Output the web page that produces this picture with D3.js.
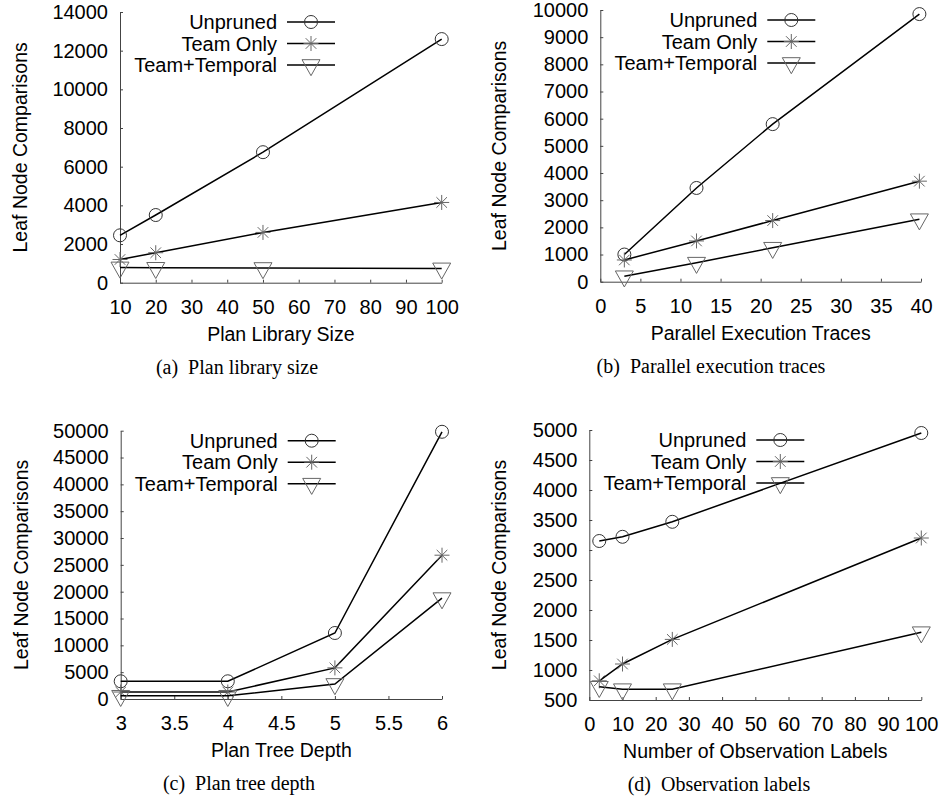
<!DOCTYPE html>
<html lang="en">
<head>
    <meta charset="UTF-8">
    <title>Leaf node comparisons</title>
    <script type="application/javascript" src="https://cdnjs.cloudflare.com/ajax/libs/d3/7.8.5/d3.min.js"></script>
    <style type="text/css">
        body {
            margin: 0;
            background: #fff;
        }

        .tick text {
            font-family: "Liberation Sans", Arial, sans-serif;
            font-size: 20px;
            fill: #000;
        }

        .axis path,
        .axis line {
            stroke: #444;
        }

        .label {
            font-family: "Liberation Sans", Arial, sans-serif;
            font-size: 19.5px;
        }

        .legend {
            font-family: "Liberation Sans", Arial, sans-serif;
            font-size: 20px;
        }

        .caption {
            font-family: "Liberation Serif", "Times New Roman", serif;
            font-size: 20px;
            white-space: pre;
        }
    </style>
</head>
<body>
<svg id="chart" width="942" height="800"></svg>
<script type="application/javascript">
    var SERIES = ['Unpruned', 'Team Only', 'Team+Temporal'];
    var Y_TITLE = 'Leaf Node Comparisons';

    // (a) plan library size
    var libX = [10, 20, 50, 100];
    var libUnpruned = [2450, 3500, 6750, 12600];
    var libTeam = [1200, 1550, 2600, 4150];
    var libTemporal = [790, 770, 760, 740];
    var libXTicks = [10, 20, 30, 40, 50, 60, 70, 80, 90, 100];
    var libYTicks = [0, 2000, 4000, 6000, 8000, 10000, 12000, 14000];

    // (b) parallel execution traces
    var traceX = [3, 12, 21.5, 39.8];
    var traceUnpruned = [1000, 3450, 5800, 9850];
    var traceTeam = [800, 1500, 2250, 3700];
    var traceTemporal = [200, 700, 1250, 2300];
    var traceXTicks = [0, 5, 10, 15, 20, 25, 30, 35, 40];
    var traceYTicks = [0, 1000, 2000, 3000, 4000, 5000, 6000, 7000, 8000, 9000, 10000];

    // (c) plan tree depth
    var depthX = [3, 4, 5, 6];
    var depthUnpruned = [3300, 3300, 12300, 49800];
    var depthTeam = [1300, 1300, 5800, 26800];
    var depthTemporal = [600, 600, 2800, 18800];
    var depthXTicks = [3, 3.5, 4, 4.5, 5, 5.5, 6];
    var depthYTicks = [0, 5000, 10000, 15000, 20000, 25000, 30000, 35000, 40000, 45000, 50000];

    // (d) observation labels
    var obsX = [3, 10, 25, 100];
    var obsUnpruned = [3150, 3220, 3470, 4950];
    var obsTeam = [820, 1100, 1510, 3200];
    var obsTemporal = [720, 680, 680, 1630];
    var obsXTicks = [0, 10, 20, 30, 40, 50, 60, 70, 80, 90, 100];
    var obsYTicks = [500, 1000, 1500, 2000, 2500, 3000, 3500, 4000, 4500, 5000];

    (function () {
        var svg = d3.select('#chart');

        var panels = [
            {
                x: libX, ys: [libUnpruned, libTeam, libTemporal],
                xTicks: libXTicks, yTicks: libYTicks,
                xTitle: 'Plan Library Size', caption: '(a)  Plan library size',
                left: 120, right: 441.7, top: 12, bottom: 282.7,
                yTitleOff: 100, captionX: 237
            },
            {
                x: traceX, ys: [traceUnpruned, traceTeam, traceTemporal],
                xTicks: traceXTicks, yTicks: traceYTicks,
                xTitle: 'Parallel Execution Traces', caption: '(b)  Parallel execution traces',
                left: 600.3, right: 921, top: 10, bottom: 281.7,
                yTitleOff: 101, captionX: 711
            },
            {
                x: depthX, ys: [depthUnpruned, depthTeam, depthTemporal],
                xTicks: depthXTicks, yTicks: depthYTicks,
                xTitle: 'Plan Tree Depth', caption: '(c)  Plan tree depth',
                left: 120.7, right: 442, top: 430.7, bottom: 699,
                yTitleOff: 100, captionX: 239
            },
            {
                x: obsX, ys: [obsUnpruned, obsTeam, obsTemporal],
                xTicks: obsXTicks, yTicks: obsYTicks,
                xTitle: 'Number of Observation Labels', caption: '(d)  Observation labels',
                left: 589.3, right: 921.3, top: 430, bottom: 700,
                yTitleOff: 90, captionX: 719
            }
        ];

        // gnuplot style point types: circle, asterisk, down triangle
        function drawMarker(g, type, cx, cy) {
            if (type === 0) {
                g.append('circle')
                    .attr('cx', cx).attr('cy', cy).attr('r', 6.5)
                    .attr('fill', 'none')
                    .attr('stroke', '#333')
                    .attr('stroke-width', 1);
            } else if (type === 1) {
                var a = 7.5, b = 5.3;
                g.append('path')
                    .attr('transform', 'translate(' + cx + ',' + cy + ')')
                    .attr('d', 'M' + (-a) + ',0H' + a + 'M0,' + (-a) + 'V' + a +
                        'M' + (-b) + ',' + (-b) + 'L' + b + ',' + b +
                        'M' + (-b) + ',' + b + 'L' + b + ',' + (-b))
                    .attr('fill', 'none')
                    .attr('stroke', '#666')
                    .attr('stroke-width', 1);
            } else {
                g.append('path')
                    .attr('transform', 'translate(' + cx + ',' + cy + ')')
                    .attr('d', 'M-9,-5.3L9,-5.3L0,10.7Z')
                    .attr('fill', 'none')
                    .attr('stroke', '#666')
                    .attr('stroke-width', 1);
            }
        }

        panels.forEach(function (p) {
            var x = d3.scaleLinear()
                .domain(d3.extent(p.xTicks))
                .range([p.left, p.right]);
            var y = d3.scaleLinear()
                .domain(d3.extent(p.yTicks))
                .range([p.bottom, p.top]);

            var g = svg.append('g');

            g.append('g')
                .attr('class', 'axis')
                .attr('transform', 'translate(0,' + p.bottom + ')')
                .call(d3.axisBottom(x)
                    .tickValues(p.xTicks)
                    .tickSizeInner(-3)
                    .tickSizeOuter(0)
                    .tickPadding(17)
                    .tickFormat(d3.format('')));

            g.append('g')
                .attr('class', 'axis')
                .attr('transform', 'translate(' + p.left + ',0)')
                .call(d3.axisLeft(y)
                    .tickValues(p.yTicks)
                    .tickSizeInner(-3)
                    .tickSizeOuter(0)
                    .tickPadding(12)
                    .tickFormat(d3.format('d')));

            var line = d3.line()
                .x(function (d) { return x(d[0]); })
                .y(function (d) { return y(d[1]); });

            p.ys.forEach(function (vals, i) {
                var pts = p.x.map(function (xv, k) { return [xv, vals[k]]; });
                g.append('path')
                    .datum(pts)
                    .attr('fill', 'none')
                    .attr('stroke', '#000')
                    .attr('stroke-width', 1.5)
                    .attr('d', line);
                pts.forEach(function (d) {
                    drawMarker(g, i, x(d[0]), y(d[1]));
                });
            });

            // legend, top left inside the plot
            var lg = g.append('g')
                .attr('transform', 'translate(' + p.left + ',' + (p.top + 10) + ')');
            SERIES.forEach(function (name, i) {
                var ry = i * 21.5;
                lg.append('text')
                    .attr('class', 'legend')
                    .attr('x', 157)
                    .attr('y', ry)
                    .attr('dy', '0.35em')
                    .attr('text-anchor', 'end')
                    .text(name);
                lg.append('line')
                    .attr('x1', 167).attr('x2', 215)
                    .attr('y1', ry).attr('y2', ry)
                    .attr('stroke', '#000')
                    .attr('stroke-width', 1.5);
                drawMarker(lg, i, 191, ry);
            });

            g.append('text')
                .attr('class', 'label')
                .attr('text-anchor', 'middle')
                .attr('transform', 'translate(' + (p.left - p.yTitleOff) + ',' +
                    ((p.top + p.bottom) / 2) + ')rotate(-90)')
                .attr('dy', '0.35em')
                .text(Y_TITLE);

            g.append('text')
                .attr('class', 'label')
                .attr('text-anchor', 'middle')
                .attr('x', (p.left + p.right) / 2)
                .attr('y', p.bottom + 51)
                .attr('dy', '0.35em')
                .text(p.xTitle);

            g.append('text')
                .attr('class', 'caption')
                .attr('text-anchor', 'middle')
                .attr('x', p.captionX)
                .attr('y', p.bottom + 84)
                .attr('dy', '0.35em')
                .text(p.caption);
        });
    })();
</script>
</body>
</html>
